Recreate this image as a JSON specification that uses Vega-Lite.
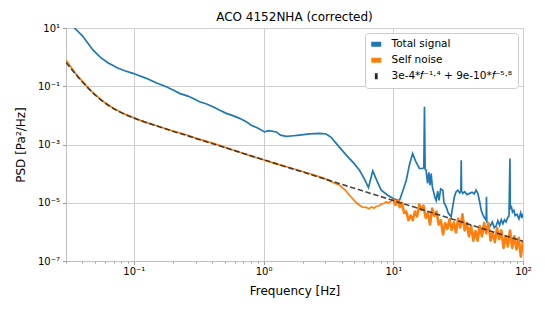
{
  "$schema": "https://vega.github.io/schema/vega-lite/v6.json",
  "width": 457,
  "height": 233,
  "autosize": {"type": "none"},
  "padding": {"left": 66, "top": 28, "right": 22, "bottom": 51},
  "background": "white",
  "title": {"text": "ACO 4152NHA (corrected)", "font": "DejaVu Sans", "fontSize": 12, "fontWeight": "normal", "color": "black", "frame": "group", "offset": -1},
  "config": {
    "font": "DejaVu Sans",
    "view": {"stroke": "#bfbfbf", "strokeWidth": 1},
    "axis": {"labelFont": "DejaVu Sans", "labelFontSize": 10, "labelColor": "black", "titleFont": "DejaVu Sans", "titleFontSize": 12, "titleFontWeight": "normal", "titleColor": "black", "domainColor": "#bfbfbf", "tickColor": "#999999", "gridColor": "#cfcfcf", "gridWidth": 1, "labelFlush": false, "labelOverlap": false},
    "legend": {"labelFont": "DejaVu Sans", "labelFontSize": 10.5, "labelColor": "black"}
  },
  "datasets": {
    "total": [
      {"f":0.03,"p":18},{"f":0.035,"p":9.8},{"f":0.04,"p":5.5},{"f":0.0484,"p":1.76},{"f":0.055,"p":1.0},{"f":0.0631,"p":0.644},{"f":0.075,"p":0.42},{"f":0.085,"p":0.34},{"f":0.0984,"p":0.278},{"f":0.1248,"p":0.187},{"f":0.15,"p":0.13},{"f":0.178,"p":0.096},{"f":0.206,"p":0.07},{"f":0.225,"p":0.057},{"f":0.261,"p":0.046},{"f":0.29,"p":0.037},{"f":0.321,"p":0.0294},{"f":0.36,"p":0.025},{"f":0.407,"p":0.0198},{"f":0.46,"p":0.015},{"f":0.516,"p":0.0117},{"f":0.58,"p":0.0098},{"f":0.653,"p":0.0079},{"f":0.73,"p":0.0062},{"f":0.804,"p":0.0046},{"f":0.9,"p":0.0037},{"f":1.018,"p":0.0027},{"f":1.1,"p":0.003},{"f":1.253,"p":0.0027},{"f":1.35,"p":0.0021},{"f":1.496,"p":0.0019},{"f":1.7,"p":0.002},{"f":1.89,"p":0.0021},{"f":2.26,"p":0.0023},{"f":2.7,"p":0.0024},{"f":3.04,"p":0.0023},{"f":3.3,"p":0.0018},{"f":3.63,"p":0.00109},{"f":4.34,"p":0.00043},{"f":5.0,"p":0.00022},{"f":5.49,"p":0.000131},{"f":6.0,"p":0.000065},{"f":6.44,"p":0.0000334},{"f":6.95,"p":0.000124},{"f":7.5,"p":0.000055},{"f":8.07,"p":0.000027},{"f":9.07,"p":0.0000181},{"f":10,"p":0.000014},{"f":10.8,"p":0.0000122},{"f":11.2,"p":0.0000125},{"f":12.0,"p":0.00003},{"f":12.6,"p":0.0000596},{"f":13.3,"p":0.000195},{"f":14.1,"p":0.000493},{"f":14.8,"p":0.00028},{"f":15.9,"p":0.00015},{"f":16.9,"p":0.00015},{"f":17.2,"p":0.00016},{"f":17.4,"p":0.0198},{"f":17.6,"p":0.00014},{"f":17.9,"p":0.000131},{"f":18.4,"p":0.000046},{"f":18.8,"p":0.00011},{"f":19.2,"p":0.00004},{"f":19.6,"p":0.0001},{"f":20.0,"p":0.000035},{"f":20.4,"p":0.000025},{"f":21.0,"p":0.000015},{"f":21.4,"p":0.000012},{"f":22,"p":0.000025},{"f":22.5,"p":0.000012},{"f":23.2,"p":0.00003},{"f":24.1,"p":0.000027},{"f":24.6,"p":0.00001},{"f":25.6,"p":0.0000072},{"f":26.5,"p":0.0000045},{"f":27.9,"p":0.0000033},{"f":28.8,"p":0.000008},{"f":29.6,"p":0.000016},{"f":30.5,"p":0.000024},{"f":31.4,"p":0.000027},{"f":32.5,"p":0.000022},{"f":33.2,"p":0.000025},{"f":33.4,"p":0.00029},{"f":33.6,"p":0.000025},{"f":34.3,"p":0.000021},{"f":35.5,"p":0.000024},{"f":37,"p":0.000019},{"f":38.7,"p":0.000021},{"f":40.5,"p":0.000023},{"f":42,"p":0.00002},{"f":43.5,"p":0.000027},{"f":45,"p":0.00002},{"f":46.5,"p":0.00001},{"f":47.6,"p":0.0000055},{"f":49.5,"p":0.0000035},{"f":52.0,"p":0.0000025},{"f":52.3,"p":0.000016},{"f":52.6,"p":0.0000022},{"f":53.5,"p":0.0000019},{"f":56,"p":0.0000016},{"f":58,"p":0.0000022},{"f":60,"p":0.0000014},{"f":62,"p":0.0000016},{"f":64,"p":0.0000024},{"f":66,"p":0.0000017},{"f":68,"p":0.0000026},{"f":70,"p":0.0000019},{"f":72,"p":0.0000026},{"f":74,"p":0.0000022},{"f":76,"p":0.000003},{"f":78,"p":0.0000035},{"f":79.3,"p":0.00033},{"f":79.8,"p":0.000006},{"f":81,"p":0.000008},{"f":83,"p":0.0000048},{"f":85,"p":0.0000055},{"f":87,"p":0.0000036},{"f":90,"p":0.000004},{"f":93,"p":0.0000028},{"f":96,"p":0.0000045},{"f":98,"p":0.000003},{"f":100,"p":0.0000042}
    ],
    "self_lo": [
      {"f":0.03,"p":0.8},{"f":0.035,"p":0.3},{"f":0.04,"p":0.15},{"f":0.045,"p":0.085},{"f":0.05,"p":0.053},{"f":0.06,"p":0.027},{"f":0.07,"p":0.0172},{"f":0.08,"p":0.0126},{"f":0.1,"p":0.0082},{"f":0.12,"p":0.006},{"f":0.15,"p":0.0044},{"f":0.2,"p":0.0029},{"f":0.25,"p":0.0022},{"f":0.3,"p":0.00165},{"f":0.4,"p":0.00115},{"f":0.5,"p":0.00081},{"f":0.6,"p":0.00062},{"f":0.7,"p":0.00049},{"f":0.8,"p":0.0004},{"f":1.0,"p":0.0003},{"f":1.2,"p":0.00023},{"f":1.5,"p":0.000172},{"f":2.0,"p":0.000118},{"f":2.5,"p":0.000088},{"f":3.0,"p":0.000066},{"f":3.5,"p":0.000048},{"f":3.85,"p":0.00004},{"f":4.3,"p":0.000026},{"f":4.6,"p":0.000018},{"f":5.0,"p":0.000012},{"f":5.2,"p":0.00001},{"f":5.5,"p":0.0000082},{"f":5.8,"p":0.000007},{"f":6.2,"p":0.0000069},{"f":6.5,"p":0.0000062},{"f":6.8,"p":0.0000072},{"f":7.1,"p":0.0000065},{"f":7.4,"p":0.0000076},{"f":7.8,"p":0.0000079},{"f":8.1,"p":0.000009},{"f":8.5,"p":0.0000096},{"f":8.8,"p":0.0000107},{"f":9.2,"p":0.00001},{"f":9.6,"p":0.0000112},{"f":10,"p":0.00001349}
    ],
    "self_hi": [
      {"f":10,"p":0.00001349},{"f":10.39,"p":0.00000832},{"f":10.8,"p":0.00001259},{"f":11.22,"p":0.00000708},{"f":11.66,"p":0.00001},{"f":12.12,"p":0.00000447},{"f":12.59,"p":0.00000501},{"f":13.08,"p":0.00000251},{"f":13.59,"p":0.00000363},{"f":14.13,"p":0.00000251},{"f":14.68,"p":0.00000501},{"f":15.25,"p":0.00000339},{"f":15.85,"p":0.00000891},{"f":16.47,"p":0.00000562},{"f":17.11,"p":0.00000794},{"f":17.78,"p":0.00000302},{"f":18.48,"p":0.00000447},{"f":19.2,"p":0.00000178},{"f":19.95,"p":0.00000631},{"f":20.73,"p":0.00000355},{"f":21.54,"p":0.00000501},{"f":22.39,"p":0.00000178},{"f":23.26,"p":0.00000251},{"f":24.17,"p":0.000000813},{"f":25.12,"p":0.000002},{"f":26.1,"p":0.00000126},{"f":27.12,"p":0.00000269},{"f":28.18,"p":0.00000117},{"f":29.29,"p":0.00000209},{"f":30.43,"p":0.000000955},{"f":31.62,"p":0.00000282},{"f":32.86,"p":0.00000141},{"f":34.15,"p":0.00000398},{"f":35.48,"p":0.00000112},{"f":36.87,"p":0.000002},{"f":38.31,"p":0.000000708},{"f":39.81,"p":0.000001585},{"f":41.37,"p":0.000000501},{"f":42.99,"p":0.00000107},{"f":44.67,"p":0.000000501},{"f":46.42,"p":0.000001585},{"f":48.23,"p":0.000000708},{"f":50.12,"p":0.000002},{"f":52.08,"p":0.000000891},{"f":54.12,"p":0.000002},{"f":56.23,"p":0.000000501},{"f":58.43,"p":0.000000933},{"f":60.71,"p":0.000000447},{"f":63.1,"p":0.00000135},{"f":65.56,"p":0.000000562},{"f":68.13,"p":0.00000112},{"f":70.79,"p":0.000000282},{"f":73.56,"p":0.000000708},{"f":76.44,"p":0.000000316},{"f":79.43,"p":0.00000112},{"f":82.54,"p":0.000000282},{"f":85.77,"p":0.000000708},{"f":89.13,"p":0.000000251},{"f":92.61,"p":0.000000631},{"f":96.23,"p":0.000000141},{"f":100,"p":0.000000501}
    ],
    "fit": [
      {"f":0.03,"p":0.653},{"f":0.032,"p":0.457},{"f":0.035,"p":0.282},{"f":0.038,"p":0.185},{"f":0.04,"p":0.143},{"f":0.045,"p":0.0814},{"f":0.05,"p":0.0515},{"f":0.055,"p":0.0356},{"f":0.06,"p":0.0264},{"f":0.065,"p":0.0207},{"f":0.07,"p":0.0169},{"f":0.08,"p":0.0124},{"f":0.09,"p":0.00978},{"f":0.1,"p":0.00811},{"f":0.12,"p":0.00604},{"f":0.15,"p":0.00433},{"f":0.2,"p":0.00287},{"f":0.3,"p":0.00162},{"f":0.5,"p":0.000792},{"f":1,"p":0.0003},{"f":2,"p":0.0001137},{"f":5,"p":0.0000315},{"f":10,"p":0.00001194},{"f":20,"p":0.00000452},{"f":50,"p":0.00000125},{"f":100,"p":0.000000475}
    ]
  },
  "encoding": {
    "x": {"field": "f", "type": "quantitative", "title": "Frequency [Hz]",
      "scale": {"type": "log", "domain": [0.03, 100], "nice": false},
      "axis": {
        "values": [0.03,0.04,0.05,0.06,0.07,0.08,0.09,0.1,0.2,0.3,0.4,0.5,0.6,0.7,0.8,0.9,1,2,3,4,5,6,7,8,9,10,20,30,40,50,60,70,80,90,100],
        "labelExpr": "datum.value == 0.1 ? '10⁻¹' : datum.value == 1 ? '10⁰' : datum.value == 10 ? '10¹' : datum.value == 100 ? '10²' : ''",
        "grid": true,
        "gridOpacity": {"condition": {"test": "datum.value == 0.1 || datum.value == 1 || datum.value == 10 || datum.value == 100", "value": 1}, "value": 0},
        "tickSize": {"condition": {"test": "datum.value == 0.1 || datum.value == 1 || datum.value == 10 || datum.value == 100", "value": 3.5}, "value": 2},
        "labelPadding": 2, "titlePadding": 9
      }
    },
    "y": {"field": "p", "type": "quantitative", "title": "PSD [Pa²/Hz]",
      "scale": {"type": "log", "domain": [0.0000001, 10], "nice": false},
      "axis": {
        "values": [0.0000001, 0.00001, 0.001, 0.1, 10],
        "labelExpr": "datum.value < 0.000001 ? '10⁻⁷' : datum.value < 0.0001 ? '10⁻⁵' : datum.value < 0.01 ? '10⁻³' : datum.value < 1 ? '10⁻¹' : '10¹'",
        "grid": true, "tickSize": 3.5, "labelPadding": 3, "titlePadding": 10
      }
    },
    "color": {
      "type": "nominal",
      "scale": {"domain": ["total", "self", "fit"], "range": ["#1f77b4", "#ff7f0e", "#262626"]},
      "legend": {
        "title": null,
        "orient": "top-right",
        "offset": 5,
        "padding": 6,
        "fillColor": "white",
        "strokeColor": "#cccccc",
        "cornerRadius": 3,
        "rowPadding": 5,
        "labelOffset": 10,
        "labelExpr": "datum.value == 'total' ? 'Total signal' : datum.value == 'self' ? 'Self noise' : '3e-4*𝑓⁻¹·⁴ + 9e-10*𝑓⁻⁵·⁸'",
        "symbolSize": 100,
        "symbolStrokeWidth": 0,
        "encode": {
          "symbols": {
            "update": {
              "fill": {"scale": "color", "field": "value"},
              "strokeWidth": {"value": 0},
              "shape": {"signal": "datum.value == 'fit' ? 'M-0.28,-0.6H0.28V0.6H-0.28Z' : 'M-1,-0.5H1V0.5H-1Z'"}
            }
          }
        }
      }
    }
  },
  "layer": [
    {"data": {"name": "total"}, "mark": {"type": "line", "strokeWidth": 1.7, "clip": true},
     "encoding": {"color": {"datum": "total"}}},
    {"data": {"name": "self_lo"}, "mark": {"type": "line", "strokeWidth": 1.7, "clip": true},
     "encoding": {"color": {"datum": "self"}}},
    {"data": {"name": "self_hi"}, "mark": {"type": "line", "strokeWidth": 2.6, "clip": true, "strokeJoin": "round"},
     "encoding": {"color": {"datum": "self"}}},
    {"data": {"name": "fit"}, "mark": {"type": "line", "strokeWidth": 1.6, "strokeDash": [5.5, 2.6], "clip": true, "opacity": 0.85},
     "encoding": {"color": {"datum": "fit"}}}
  ]
}
